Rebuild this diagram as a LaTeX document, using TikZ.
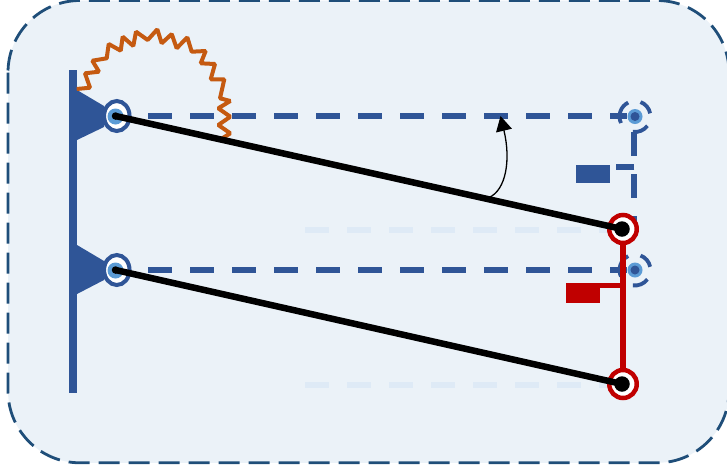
\documentclass[tikz,border=0pt]{standalone}
\usetikzlibrary{arrows.meta,shapes.geometric}
\definecolor{panelfill}{HTML}{EBF2F8}
\definecolor{panelline}{HTML}{1F4E79}
\definecolor{linkblue}{HTML}{2F5597}
\definecolor{lightblue}{HTML}{5B9BD5}
\definecolor{ghost}{HTML}{DEEAF6}
\definecolor{linkred}{HTML}{C00000}
\definecolor{springcol}{HTML}{C55A11}
\tikzset{
  x=1pt,y=-1pt,
  panel/.style={fill=panelfill,draw=panelline,line width=2.8pt,dash pattern=on 21pt off 9pt,rounded corners=72pt},
  ghostline/.style={draw=ghost,line width=6pt,dash pattern=on 24pt off 18pt},
  bluedash/.style={draw=linkblue,line width=6pt,dash pattern=on 24pt off 18pt},
  pivotring/.style={shape=ellipse,draw=linkblue,fill=white,line width=4pt,outer sep=0pt,minimum width=25.5pt,minimum height=30pt,inner sep=0pt},
  pivotcore/.style={shape=circle,fill=lightblue,minimum size=16pt,inner sep=0pt,outer sep=0pt},
  blackdot/.style={shape=circle,fill=black,minimum size=7.5pt,inner sep=0pt,outer sep=0pt},
  ghostcore/.style={shape=circle,fill=lightblue,minimum size=15pt,inner sep=0pt,outer sep=0pt},
  ghostdot/.style={shape=circle,fill=linkblue,minimum size=9pt,inner sep=0pt,outer sep=0pt},
  redring/.style={shape=ellipse,draw=linkred,fill=white,line width=4.5pt,outer sep=0pt,minimum width=27.5pt,minimum height=28pt,inner sep=0pt},
  bigdot/.style={shape=circle,fill=black,minimum size=15.5pt,inner sep=0pt,outer sep=0pt},
  rodline/.style={draw=black,line width=6.5pt},
  redline/.style={draw=linkred,line width=5.5pt},
  springline/.style={draw=springcol,line width=4pt,line join=bevel},
  arcseg/.style={draw=linkblue,line width=3.8pt},
  bluebox/.style={shape=rectangle,fill=linkblue,minimum width=34pt,minimum height=18pt,inner sep=0pt,outer sep=0pt},
  redbox/.style={shape=rectangle,fill=linkred,minimum width=34pt,minimum height=20.5pt,inner sep=0pt,outer sep=0pt},
}
\begin{document}
\begin{tikzpicture}
\useasboundingbox (0,0) rectangle (727,467);
\path[panel] (8,0.5) rectangle (729,462.8);
% faint ghost lines
\coordinate (g1a) at (305,229.5); \coordinate (g1b) at (610,229.5);
\coordinate (g2a) at (305,384.5); \coordinate (g2b) at (610,384.5);
\path[ghostline] (g1a) -- (g1b);
\path[ghostline] (g2a) -- (g2b);
% ghost pivots
\node[ghostcore] (ghostA) at (635,116.5) {};
\node[ghostdot] (ghostAd) at (635,116.5) {};
\node[ghostcore] (ghostB) at (635,270) {};
\node[ghostdot] (ghostBd) at (635,270) {};
\foreach \c in {ghostA,ghostB}{
  \draw[arcseg] (\c.center) ++(12:15.5pt) arc[start angle=12,end angle=69,radius=15.5pt];
  \draw[arcseg] (\c.center) ++(116:15.5pt) arc[start angle=116,end angle=205,radius=15.5pt];
  \draw[arcseg] (\c.center) ++(262:15.5pt) arc[start angle=262,end angle=323,radius=15.5pt];
}
% left pivots
\node[pivotring] (p1) at (116.8,116) {};
\node[pivotring] (p2) at (116.8,270) {};
\node[pivotcore] (c1) at (115.5,116.5) {};
\node[pivotcore] (c2) at (115.5,270.5) {};
% blue dashed links
\coordinate (d1) at (148,116); \coordinate (d1e) at (627,116);
\coordinate (d2) at (148,270); \coordinate (d2e) at (627,270);
\path[bluedash] (d1) -- (d1e);
\path[bluedash] (d2) -- (d2e);
\coordinate (v1) at (634.3,132); \coordinate (v2) at (634.3,229);
\path[bluedash] (v1) -- (v2);
\coordinate (b1) at (634.3,167); \coordinate (b2) at (616,167);
\draw[linkblue,line width=5.5pt] (b1) -- (b2);
\node[bluebox] (bb) at (593,174) {};
% wall and wedges
\coordinate (w1) at (73.3,70); \coordinate (w2) at (73.3,393);
\draw[linkblue,line width=8pt] (w1) -- (w2);
\fill[linkblue] (77,90) -- (104,106) -- (104,127) -- (77,140) -- cycle;
\fill[linkblue] (77,245) -- (104,261) -- (104,280) -- (77,294) -- cycle;
% spring
\coordinate (s1) at (76.7,89); \coordinate (s2) at (220.7,139.3);
\draw[springline] (s1) -- (90,87.7) -- (85,73.3) -- (99,71.7) -- (92.3,60.7) -- (106.7,58.3) -- (108.7,44) -- (120.7,50.7) -- (122.7,36.7) -- (133.3,46) -- (136,31.7) -- (147.7,40) -- (157.3,29.3) -- (161.7,43.3) -- (171.7,34) -- (176.7,48.3) -- (187.3,37.3) -- (191.7,51.7) -- (205.7,51) -- (200.7,63.3) -- (215,64) -- (210.7,79.3) -- (224.3,79.3) -- (220,98.3) -- (230.3,101) -- (218.3,108.3) -- (230.3,116.7) -- (218.3,125) -- (230.3,133.3) -- (s2);
% red link
\node[redring] (r1) at (623,229) {};
\node[redring] (r2) at (623,384) {};
\node[redbox] (rb) at (583,293) {};
\coordinate (rj) at (623,285.7); \coordinate (rk) at (599,285.7);
\path[redline] (r1) -- (r2);
\path[redline] (rj) -- (rk);
% black rods
\node[blackdot] (k1) at (115.5,116) {};
\node[blackdot] (k2) at (115.5,270) {};
\node[bigdot] (k3) at (622,229) {};
\node[bigdot] (k4) at (622,384) {};
\path[rodline] (k1.center) -- (k3.center);
\path[rodline] (k2.center) -- (k4.center);
% angle arrow
\coordinate (a1) at (489,197.5); \coordinate (a2) at (500.5,116);
\draw[line width=1.3pt,-{Triangle[length=15pt,width=16pt]}] (a1) .. controls (506,190) and (511,160) .. (a2);
\end{tikzpicture}
\end{document}
